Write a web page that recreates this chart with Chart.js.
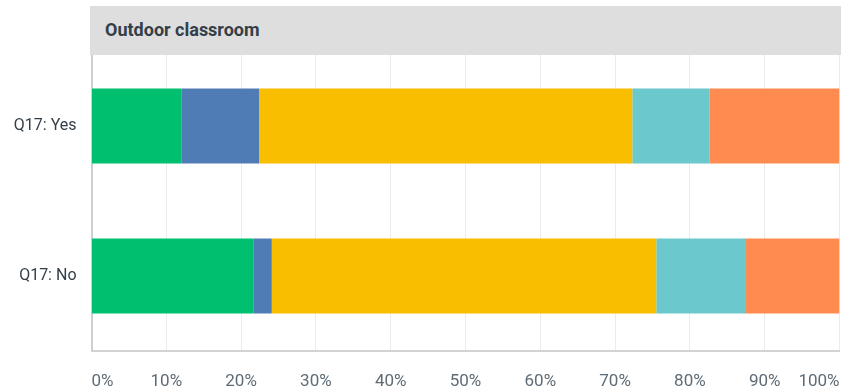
<!DOCTYPE html>
<html>
<head>
<meta charset="utf-8">
<script src="https://cdn.jsdelivr.net/npm/chart.js@4"></script>
<style>
  body { margin: 0; background: #fff; }
  #wrap { position: relative; width: 843px; height: 392px; }
  #chart { position: absolute; left: 0; top: 0; }
  #header {
    position: absolute; left: 90px; top: 6px; width: 751px; height: 49px;
    background: #dedede; color: #333e48;
    font: 700 18px Roboto, sans-serif; line-height: 48px;
    padding-left: 15px; box-sizing: border-box;
  }
</style>
</head>
<body>
<div id="wrap">
  <canvas id="chart" width="843" height="392"></canvas>
  <div id="header">Outdoor classroom</div>
</div>
<script>
// rows of the stacked bar
const categories = ['Q17: Yes', 'Q17: No'];

// percent of responses for each answer, per row
const answer1 = [12.0, 21.7];
const answer2 = [10.4, 2.4];
const answer3 = [49.9, 51.4];
const answer4 = [10.3, 12.0];
const answer5 = [17.4, 12.5];

const tickLabels = ['0%', '10%', '20%', '30%', '40%', '50%', '60%', '70%', '80%', '90%', '100%'];

const colors = ['#00bf6f', '#507cb6', '#f9be00', '#6bc8cd', '#ff8b50'];

const seriesList = [answer1, answer2, answer3, answer4, answer5];

const datasets = seriesList.map((values, i) => ({
    label: 'Answer ' + (i + 1),
    data: values,
    backgroundColor: colors[i],
    borderWidth: 0,
    barPercentage: 0.5,
    categoryPercentage: 1.0
}));

const ctx = document.getElementById('chart').getContext('2d');
new Chart(ctx, {
    type: 'bar',
    data: { labels: categories, datasets: datasets },
    options: {
        indexAxis: 'y',
        responsive: false,
        animation: false,
        events: [],
        layout: { padding: { top: 51, right: 3.5, bottom: 2, left: 0 } },
        plugins: {
            legend: { display: false },
            tooltip: { enabled: false }
        },
        scales: {
            x: {
                stacked: true,
                min: 0,
                max: 100,
                border: { color: '#d3d3d3', width: 2 },
                grid: { color: '#ebebeb', lineWidth: 1, drawTicks: false },
                ticks: {
                    stepSize: 10,
                    align: 'inner',
                    maxRotation: 0,
                    padding: 21,
                    color: '#5f6b75',
                    font: { family: 'Roboto', size: 17 },
                    callback: (value, index) => tickLabels[index]
                },
                afterFit: function(scale) {
                    // labels sit inside the plot edges, so no extra side room
                    scale.height = 39;
                    scale.paddingLeft = 0;
                    scale.paddingRight = 0;
                }
            },
            y: {
                stacked: true,
                border: { color: '#cfcfcf', width: 2 },
                grid: { display: false, drawTicks: false },
                ticks: {
                    padding: 15,
                    color: '#333e48',
                    font: { family: 'Roboto', size: 16 }
                },
                afterFit: function(scale) {
                    scale.width = 91.5;
                    scale.paddingTop = 0;
                    scale.paddingBottom = 0;
                }
            }
        }
    }
});
</script>
</body>
</html>
